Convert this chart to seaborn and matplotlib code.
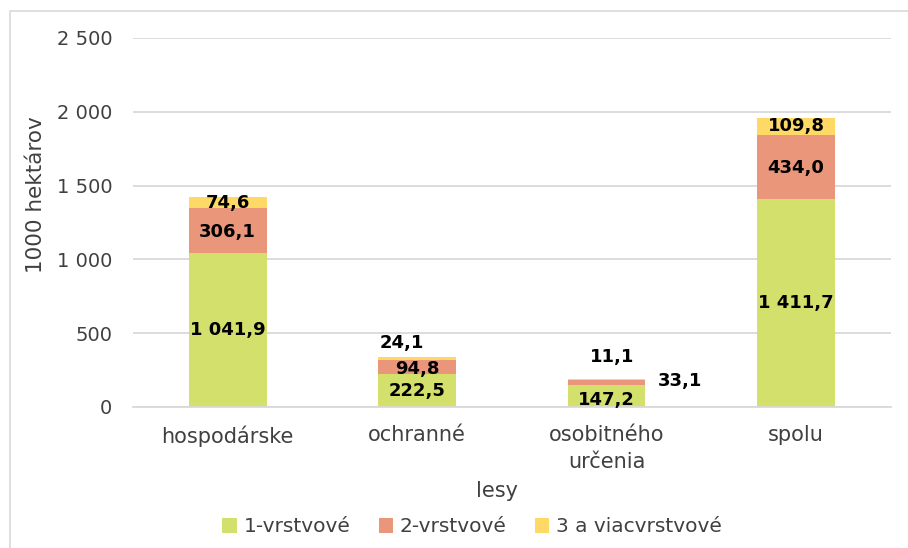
import matplotlib
matplotlib.use("Agg")
from matplotlib import pyplot as plt
from matplotlib.patches import Patch
from matplotlib.lines import Line2D
from matplotlib.ticker import FuncFormatter
import numpy as np
import pandas as pd
import seaborn as sns

# hodnoty z grafu (1000 ha)
kategorie = ["hospodárske", "ochranné", "osobitného\nurčenia", "spolu"]
vrstva1 = [1041.9, 222.5, 147.2, 1411.7]
vrstva2 = [306.1, 94.8, 33.1, 434.0]
vrstva3 = [74.6, 24.1, 11.1, 109.8]
serie = ["1-vrstvové", "2-vrstvové", "3 a viacvrstvové"]
farby = ["#d4e06c", "#ea967a", "#ffd966"]


def fmt(v, dec=1):
    s = f"{v:,.{dec}f}"
    return s.replace(",", " ").replace(".", ",")


df = pd.DataFrame({"lesy": kategorie, "v1": vrstva1, "v2": vrstva2, "v3": vrstva3})
df["c2"] = df["v1"] + df["v2"]
df["c3"] = df["c2"] + df["v3"]

sns.set_style("white")
plt.rcParams["font.family"] = ["DejaVu Sans"]

fig = plt.figure(figsize=(9.08, 5.48), dpi=100)
ax = fig.add_axes([0.1465, 0.2573, 0.8345, 0.6734])

w = 0.41
sns.barplot(data=df, x="lesy", y="c3", color=farby[2], width=w, saturation=1, ax=ax)
sns.barplot(data=df, x="lesy", y="c2", color=farby[1], width=w, saturation=1, ax=ax)
sns.barplot(data=df, x="lesy", y="v1", color=farby[0], width=w, saturation=1, ax=ax)
for p in ax.patches:
    p.set_linewidth(0)

ax.set_ylim(0, 2500)
ax.set_xlim(-0.5, 3.5)
ax.set_yticks(np.arange(0, 2501, 500))
ax.yaxis.set_major_formatter(FuncFormatter(lambda v, _: fmt(v, 0)))
ax.grid(axis="y", color="#d9d9d9", linewidth=1.3)
ax.set_axisbelow(True)
for s in ["top", "right", "left"]:
    ax.spines[s].set_visible(False)
ax.spines["bottom"].set_color("#d9d9d9")
ax.spines["bottom"].set_linewidth(1.3)
ax.tick_params(axis="y", length=0, pad=15, labelsize=14, labelcolor="#404040")
ax.tick_params(axis="x", length=0, pad=13, labelsize=15, labelcolor="#404040")
for t in ax.get_xticklabels():
    t.set_linespacing(1.45)
ax.set_ylabel("1000 hektárov", fontsize=15.5, color="#404040")
ax.yaxis.set_label_coords(-0.115, 0.575)
ax.set_xlabel("lesy", fontsize=15, color="#404040")
ax.xaxis.set_label_coords(0.48, -0.2)

lab = dict(fontsize=13, fontweight="bold", color="black", ha="center", va="center")
for i, r in df.iterrows():
    y1 = r["v1"] / 2
    if r["v1"] < 160:
        y1 = r["v1"] / 2 - 25
    ax.text(i, y1, fmt(r["v1"]), **lab)
    if r["v2"] > 60:
        ax.text(i, r["v1"] + r["v2"] / 2 - 10, fmt(r["v2"]), **lab)
    else:
        ax.text(i + 0.39, r["c3"] - 15, fmt(r["v2"]), **lab)
    if r["v3"] > 60:
        ax.text(i, r["c2"] + r["v3"] / 2, fmt(r["v3"]), **lab)
    elif r["v3"] > 20:
        ax.text(i - 0.08, r["c3"] + 95, fmt(r["v3"]), **lab)
    else:
        ax.text(i + 0.03, r["c3"] + 150, fmt(r["v3"]), **lab)

handles = [Patch(facecolor=c, edgecolor="none") for c in farby]
fig.legend(handles, serie, loc="center", bbox_to_anchor=(0.52, 1 - 527 / 548), ncol=3,
           frameon=False, fontsize=14.5, handlelength=0.7, handleheight=0.7,
           handletextpad=0.35, columnspacing=1.4, labelcolor="#404040")

# ram grafu (iba horny a lavy okraj je viditelny)
fig.add_artist(Line2D([9.5 / 908, 9.5 / 908, 1], [0, 1 - 10.5 / 548, 1 - 10.5 / 548],
                      transform=fig.transFigure, color="#d9d9d9", linewidth=1.2))

fig.savefig("out.png", dpi=100)
